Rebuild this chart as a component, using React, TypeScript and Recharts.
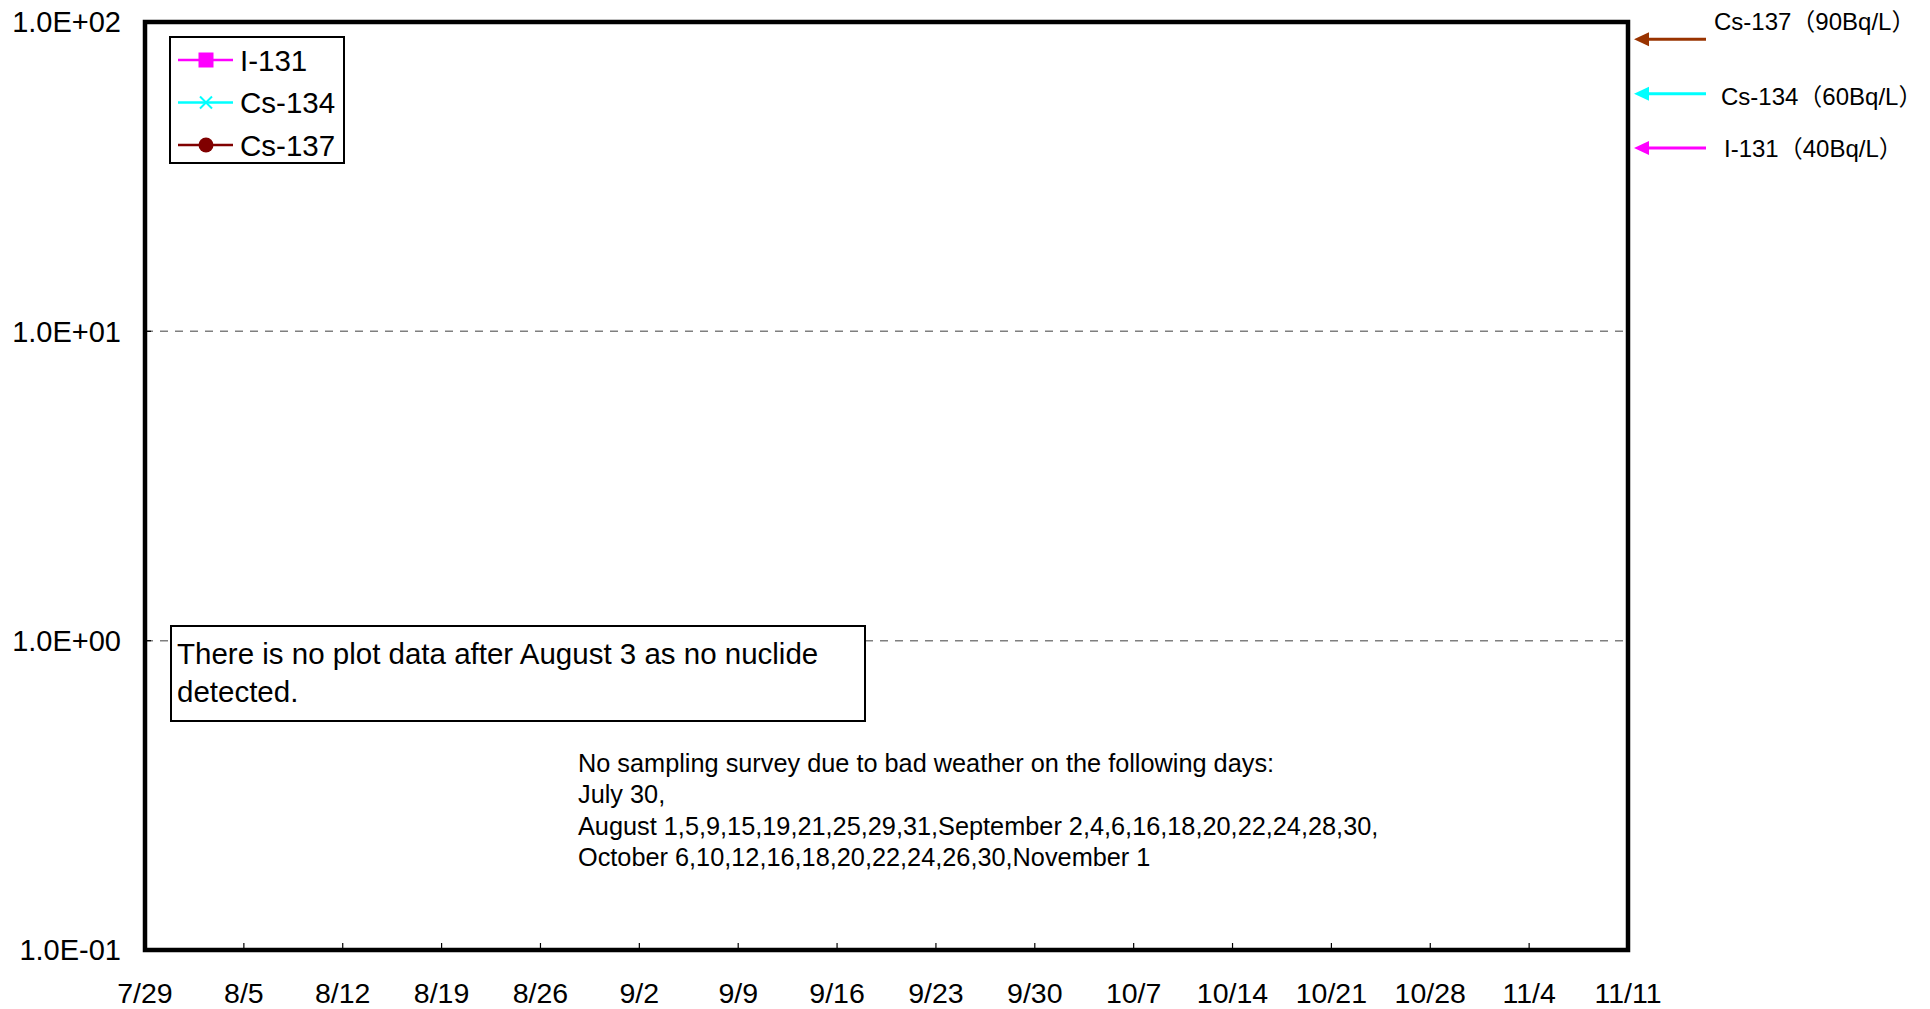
import React from 'react';
import { LineChart, Line, XAxis, YAxis, CartesianGrid, Legend, ReferenceArea, ReferenceDot } from 'recharts';

// sampling days (days after 7/29) -- nothing detected, so no values
const sampleDates = ['7/29', '7/31', '8/2', '8/3'];
const sampleDays = [0, 2, 4, 5];
const i131 = [null, null, null, null];
const cs134 = [null, null, null, null];
const cs137 = [null, null, null, null];

const tickDays = [0, 7, 14, 21, 28, 35, 42, 49, 56, 63, 70, 77, 84, 91, 98, 105];
const tickLabels = ['7/29', '8/5', '8/12', '8/19', '8/26', '9/2', '9/9', '9/16', '9/23', '9/30', '10/7', '10/14', '10/21', '10/28', '11/4', '11/11'];

const yTicks = [0.1, 1, 10, 100];
const yTickLabels = ['1.0E-01', '1.0E+00', '1.0E+01', '1.0E+02'];

// regulatory limits shown with arrows on the right
const limitNames = ['Cs-137', 'Cs-134', 'I-131'];
const limitValues = [90, 60, 40];
const limitColors = ['#993300', '#00FFFF', '#FF00FF'];
const limitLabelShift = [-18, 3, 0];
const limitLabelIndent = [0, 7, 10];

const legendOrder = ['I-131', 'Cs-134', 'Cs-137'];

const FONT = '"Liberation Sans", Arial, sans-serif';

const data = sampleDays.map((d, i) => ({
  day: d,
  date: sampleDates[i],
  i131: i131[i],
  cs134: cs134[i],
  cs137: cs137[i],
}));

const XTick = ({ x, y, payload }: any) => {
  const idx = tickDays.indexOf(payload.value);
  return (
    <g>
      <line x1={x} x2={x} y1={y} y2={y - 7} stroke="#000" strokeWidth={1.2} />
      <text x={x} y={y + 53} textAnchor="middle" fontSize={28.5} fontFamily={FONT} fill="#000">
        {tickLabels[idx]}
      </text>
    </g>
  );
};

const YTick = ({ x, y, payload }: any) => {
  const idx = yTicks.indexOf(payload.value);
  return (
    <g>
      <line x1={x} x2={x + 6} y1={y} y2={y} stroke="#000" strokeWidth={1.2} />
      <text x={x - 24} y={y} dy="0.36em" textAnchor="end" fontSize={29} fontFamily={FONT} fill="#000">
        {yTickLabels[idx]}
      </text>
    </g>
  );
};

const Marker = ({ kind, cx, cy, color }: any) => {
  if (kind === 'square') return <rect x={cx - 7.5} y={cy - 7.5} width={15} height={15} fill={color} />;
  if (kind === 'cross')
    return (
      <g stroke={color} strokeWidth={2}>
        <line x1={cx - 6} y1={cy - 6} x2={cx + 6} y2={cy + 6} />
        <line x1={cx - 6} y1={cy + 6} x2={cx + 6} y2={cy - 6} />
      </g>
    );
  return <circle cx={cx} cy={cy} r={7.5} fill={color} />;
};

const markerKinds: Record<string, string> = { 'I-131': 'square', 'Cs-134': 'cross', 'Cs-137': 'circle' };

const LegendBox = ({ payload }: any) => {
  const items = [...(payload || [])].sort(
    (a: any, b: any) => legendOrder.indexOf(a.value) - legendOrder.indexOf(b.value)
  );
  return (
    <svg width={172} height={124} style={{ display: 'block' }}>
      {items.map((p: any, i: number) => {
        const cy = 22 + i * 42.5;
        return (
          <g key={p.value}>
            <line x1={7} x2={62} y1={cy} y2={cy} stroke={p.color} strokeWidth={2.5} />
            <Marker kind={markerKinds[p.value]} cx={35} cy={cy} color={p.color} />
            <text x={69} y={cy} dy="0.36em" fontSize={29.5} fontFamily={FONT} fill="#000">
              {p.value}
            </text>
          </g>
        );
      })}
    </svg>
  );
};

const LimitArrow = (i: number) => (props: any) => {
  const { cx } = props;
  const cy = props.cy + 3;
  const color = limitColors[i];
  const tip = cx + 6;
  return (
    <g>
      <line x1={tip + 12} x2={tip + 72} y1={cy} y2={cy} stroke={color} strokeWidth={3} />
      <polygon points={`${tip},${cy} ${tip + 15},${cy - 7} ${tip + 15},${cy + 7}`} fill={color} />
      <text
        x={tip + 80 + limitLabelIndent[i]}
        y={cy + limitLabelShift[i]}
        dy="0.36em"
        fontSize={24}
        fontFamily={`${FONT}, "Noto Sans CJK JP"`}
        fill="#000"
      >
        {`${limitNames[i]}（${limitValues[i]}Bq/L）`}
      </text>
    </g>
  );
};

export default function App() {
  return (
    <div style={{ position: 'absolute', left: 0, top: 0, width: 1930, height: 1009, background: '#fff' }}>
      <LineChart width={1930} height={1009} data={data} margin={{ top: 22, right: 302, bottom: 0, left: 0 }}>
        <CartesianGrid vertical={false} stroke="#7f7f7f" strokeWidth={1.5} strokeDasharray="8 7" />
        <XAxis
          dataKey="day"
          type="number"
          domain={[0, 105]}
          ticks={tickDays}
          interval={0}
          height={59}
          axisLine={false}
          tickLine={false}
          tickSize={0}
          tickMargin={0}
          tick={<XTick />}
        />
        <YAxis
          scale="log"
          domain={[0.1, 100]}
          allowDataOverflow
          ticks={yTicks}
          interval={0}
          width={145}
          axisLine={false}
          tickLine={false}
          tickSize={0}
          tickMargin={0}
          tick={<YTick />}
        />
        <ReferenceArea x1={0} x2={105} y1={0.1} y2={100} fill="none" stroke="#000" strokeWidth={4.5} ifOverflow="visible" />
        <Line name="I-131" dataKey="i131" stroke="#FF00FF" strokeWidth={2} isAnimationActive={false} dot={false} />
        <Line name="Cs-134" dataKey="cs134" stroke="#00FFFF" strokeWidth={2} isAnimationActive={false} dot={false} />
        <Line name="Cs-137" dataKey="cs137" stroke="#800000" strokeWidth={2} isAnimationActive={false} dot={false} />
        {limitValues.map((v, i) => (
          <ReferenceDot key={limitNames[i]} x={105} y={v} r={0} ifOverflow="visible" shape={LimitArrow(i)} />
        ))}
        <Legend
          layout="vertical"
          align="center"
          verticalAlign="middle"
          content={<LegendBox />}
          wrapperStyle={{
            left: 169,
            top: 36,
            width: 172,
            height: 124,
            border: '2px solid #000',
            background: '#fff',
          }}
        />
      </LineChart>
      <div
        style={{
          position: 'absolute',
          left: 170,
          top: 625,
          width: 696,
          height: 97,
          border: '2px solid #000',
          background: '#fff',
          fontFamily: FONT,
          fontSize: 29.5,
          lineHeight: '38px',
          padding: '8px 0 0 5px',
          boxSizing: 'border-box',
          color: '#000',
        }}
      >
        There is no plot data after August 3 as no nuclide
        <br />
        detected.
      </div>
      <div
        style={{
          position: 'absolute',
          left: 578,
          top: 748,
          fontFamily: FONT,
          fontSize: 25.3,
          lineHeight: '31.4px',
          color: '#000',
          whiteSpace: 'nowrap',
        }}
      >
        No sampling survey due to bad weather on the following days:
        <br />
        July 30,
        <br />
        August 1,5,9,15,19,21,25,29,31,September 2,4,6,16,18,20,22,24,28,30,
        <br />
        October 6,10,12,16,18,20,22,24,26,30,November 1
      </div>
    </div>
  );
}
